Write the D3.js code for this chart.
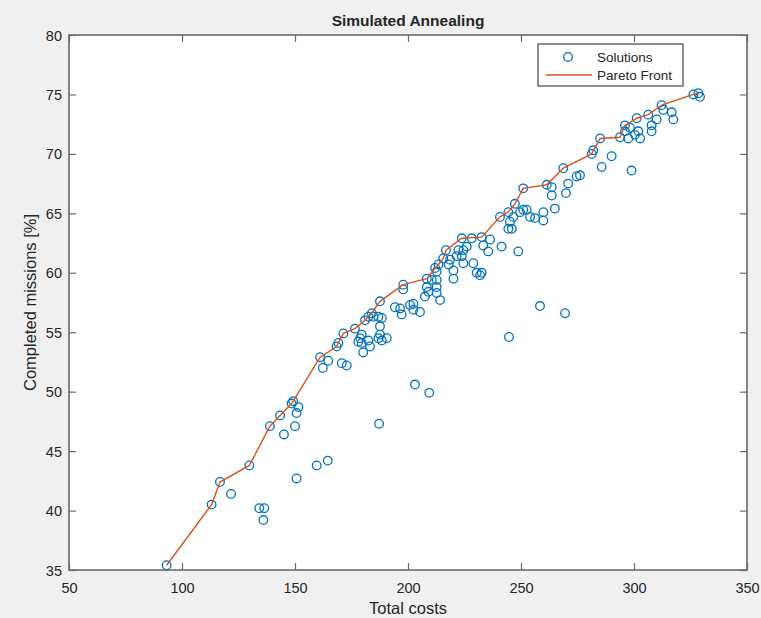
<!DOCTYPE html>
<html>
<head>
<meta charset="utf-8">
<script src="https://cdn.jsdelivr.net/npm/d3@7"></script>
<style>
  html, body { margin: 0; padding: 0; background: #f0f0f0; }
  text { font-family: "Liberation Sans", Arial, Helvetica, sans-serif; fill: #262626; }
</style>
</head>
<body>
<div id="chart"></div>
<script>
// total costs of each solution
const cost = [
  93.2, 113.1, 116.8, 121.7, 129.8, 134.2, 136.4, 136.0, 138.9, 143.4,
  145.1, 148.5, 149.2, 151.5, 150.7, 150.0, 150.7, 159.6, 164.5, 161.1,
  162.3, 164.7, 168.4, 169.2, 171.4, 170.7, 172.9, 176.5, 178.8, 179.5,
  178.0, 179.5, 180.2, 182.5, 183.2, 181.0, 182.5, 184.0, 184.7, 186.9,
  188.4, 187.6, 187.6, 186.9, 188.4, 190.6, 187.6, 187.2, 194.2, 196.5,
  197.2, 197.9, 197.9, 200.9, 202.4, 205.3, 202.4, 203.1, 209.4, 208.3,
  210.5, 212.7, 208.3, 212.7, 209.0, 212.7, 207.5, 214.2, 212.0, 212.7,
  213.5, 216.8, 215.6, 218.6, 218.0, 220.1, 220.1, 221.5, 223.8, 222.3,
  224.5, 226.0, 224.5, 228.9, 223.8, 228.2, 232.6, 236.3, 233.3, 235.5,
  230.4, 231.9, 232.6, 241.4, 248.8, 240.7, 244.4, 245.1, 244.4, 245.9,
  246.6, 247.3, 249.6, 251.0, 252.5, 254.0, 251.0, 256.2, 259.9, 259.9,
  261.4, 263.6, 263.6, 265.0, 268.7, 269.9, 270.9, 274.6, 276.1, 281.3,
  282.0, 285.0, 285.7, 290.1, 293.8, 296.0, 298.2, 296.0, 301.9, 302.7,
  297.5, 300.4, 298.9, 301.2, 306.3, 310.0, 307.8, 307.8, 312.2, 313.0,
  316.7, 317.4, 326.3, 328.5, 329.2, 244.7, 258.4, 269.5
];
// completed missions [%] of each solution
const missions = [
  35.4, 40.5, 42.4, 41.4, 43.8, 40.2, 40.2, 39.2, 47.1, 48.0,
  46.4, 49.0, 49.2, 48.7, 48.2, 47.1, 42.7, 43.8, 44.2, 52.9,
  52.0, 52.6, 53.8, 54.1, 54.9, 52.4, 52.2, 55.3, 54.5, 54.8,
  54.2, 54.1, 53.3, 54.3, 53.8, 56.0, 56.3, 56.6, 56.3, 56.3,
  56.2, 55.5, 54.8, 54.5, 54.3, 54.5, 57.6, 47.3, 57.1, 57.0,
  56.5, 59.0, 58.6, 57.3, 56.9, 56.7, 57.4, 50.6, 49.9, 59.5,
  59.4, 59.4, 58.8, 58.8, 58.4, 58.3, 58.0, 57.7, 60.4, 60.1,
  60.7, 61.9, 61.2, 61.1, 60.7, 60.2, 59.5, 61.4, 61.4, 61.9,
  61.9, 62.2, 60.8, 60.8, 62.9, 62.9, 63.0, 62.8, 62.3, 61.8,
  60.0, 59.8, 60.0, 62.2, 61.8, 64.7, 65.1, 64.3, 63.7, 63.7,
  64.7, 65.8, 65.1, 65.3, 65.3, 64.7, 67.1, 64.6, 65.1, 64.4,
  67.4, 67.2, 66.5, 65.4, 68.8, 66.7, 67.5, 68.1, 68.2, 70.0,
  70.3, 71.3, 68.9, 69.8, 71.4, 72.4, 72.2, 71.9, 71.9, 71.3,
  71.3, 71.6, 68.6, 73.0, 73.3, 72.9, 72.4, 71.9, 74.1, 73.7,
  73.5, 72.9, 75.0, 75.1, 74.8, 54.6, 57.2, 56.6
];
const xTicks = [50, 100, 150, 200, 250, 300, 350];
const yTicks = [35, 40, 45, 50, 55, 60, 65, 70, 75, 80];

const width = 761, height = 618;
const margin = { top: 35, right: 14, bottom: 48, left: 69 };
const innerW = width - margin.left - margin.right;
const innerH = height - margin.top - margin.bottom;

const solutions = cost.map((c, i) => ({ cost: c, missions: missions[i] }));

// pareto front: lowest cost for each new best mission rate
const sorted = solutions.slice().sort((a, b) => a.cost - b.cost || b.missions - a.missions);
const front = [];
let best = -Infinity;
sorted.forEach(d => {
  if (d.missions > best) { front.push(d); best = d.missions; }
});

const svg = d3.select("#chart")
  .append("svg")
  .attr("width", width)
  .attr("height", height)
  .style("display", "block")
  .style("background", "#f0f0f0");

const x = d3.scaleLinear().domain([50, 350]).range([0, innerW]);
const y = d3.scaleLinear().domain([35, 80]).range([innerH, 0]);

const g = svg.append("g")
  .attr("transform", `translate(${margin.left},${margin.top})`);

g.append("rect")
  .attr("width", innerW)
  .attr("height", innerH)
  .attr("fill", "#fff");

// ticks point inwards on all four sides, like a boxed matlab axes
const tick = 7;
const xAxis = g.append("g")
  .attr("transform", `translate(0,${innerH})`)
  .call(d3.axisBottom(x).tickValues(xTicks).tickSizeInner(-tick).tickSizeOuter(0).tickPadding(0));
xAxis.selectAll("text")
  .attr("dy", null)
  .attr("y", 23)
  .attr("font-size", 14.5);

const yAxis = g.append("g")
  .call(d3.axisLeft(y).tickValues(yTicks).tickSizeInner(-tick).tickSizeOuter(0).tickPadding(0));
yAxis.selectAll("text")
  .attr("dy", "0.35em")
  .attr("x", -7)
  .attr("font-size", 14.5);

g.append("g")
  .call(d3.axisTop(x).tickValues(xTicks).tickSizeInner(-tick).tickSizeOuter(0).tickFormat(""));
g.append("g")
  .attr("transform", `translate(${innerW},0)`)
  .call(d3.axisRight(y).tickValues(yTicks).tickSizeInner(-tick).tickSizeOuter(0).tickFormat(""));

g.selectAll(".domain").remove();
g.selectAll(".tick line").attr("stroke", "#6a6a6a").attr("stroke-width", 1.2);
g.selectAll(".tick text").attr("fill", "#333").style("font-family", "'Liberation Sans', Arial, sans-serif");

g.append("rect")
  .attr("width", innerW)
  .attr("height", innerH)
  .attr("fill", "none")
  .attr("stroke", "#6a6a6a")
  .attr("stroke-width", 1.6);

// solutions
g.append("g")
  .selectAll("circle")
  .data(solutions)
  .enter().append("circle")
  .attr("cx", d => x(d.cost))
  .attr("cy", d => y(d.missions))
  .attr("r", 4.3)
  .attr("fill", "none")
  .attr("stroke", "#0072BD")
  .attr("stroke-width", 1.3);

// pareto front
const line = d3.line()
  .x(d => x(d.cost))
  .y(d => y(d.missions));

g.append("path")
  .datum(front)
  .attr("d", line)
  .attr("fill", "none")
  .attr("stroke", "#D95319")
  .attr("stroke-width", 1.4);

// title and labels
svg.append("text")
  .attr("x", margin.left + innerW / 2)
  .attr("y", 26)
  .attr("text-anchor", "middle")
  .attr("font-size", 15.5)
  .attr("font-weight", "bold")
  .attr("fill", "#111")
  .text("Simulated Annealing");

svg.append("text")
  .attr("x", margin.left + innerW / 2)
  .attr("y", 614)
  .attr("text-anchor", "middle")
  .attr("font-size", 16.5)
  .attr("fill", "#333")
  .text("Total costs");

svg.append("text")
  .attr("transform", `translate(36,${margin.top + innerH / 2}) rotate(-90)`)
  .attr("text-anchor", "middle")
  .attr("font-size", 16.5)
  .attr("fill", "#333")
  .text("Completed missions [%]");

// legend
const legend = svg.append("g").attr("transform", "translate(538,44)");
legend.append("rect")
  .attr("width", 145)
  .attr("height", 42)
  .attr("fill", "#fff")
  .attr("stroke", "#444")
  .attr("stroke-width", 1.2);
legend.append("circle")
  .attr("cx", 30)
  .attr("cy", 13)
  .attr("r", 4.3)
  .attr("fill", "none")
  .attr("stroke", "#0072BD")
  .attr("stroke-width", 1.3);
legend.append("line")
  .attr("x1", 8)
  .attr("x2", 54)
  .attr("y1", 31)
  .attr("y2", 31)
  .attr("stroke", "#D95319")
  .attr("stroke-width", 1.4);
legend.append("text")
  .attr("x", 59)
  .attr("y", 13)
  .attr("dy", "0.35em")
  .attr("font-size", 13.5)
  .attr("fill", "#222")
  .text("Solutions");
legend.append("text")
  .attr("x", 59)
  .attr("y", 31)
  .attr("dy", "0.35em")
  .attr("font-size", 13.5)
  .attr("fill", "#222")
  .text("Pareto Front");
</script>
</body>
</html>
